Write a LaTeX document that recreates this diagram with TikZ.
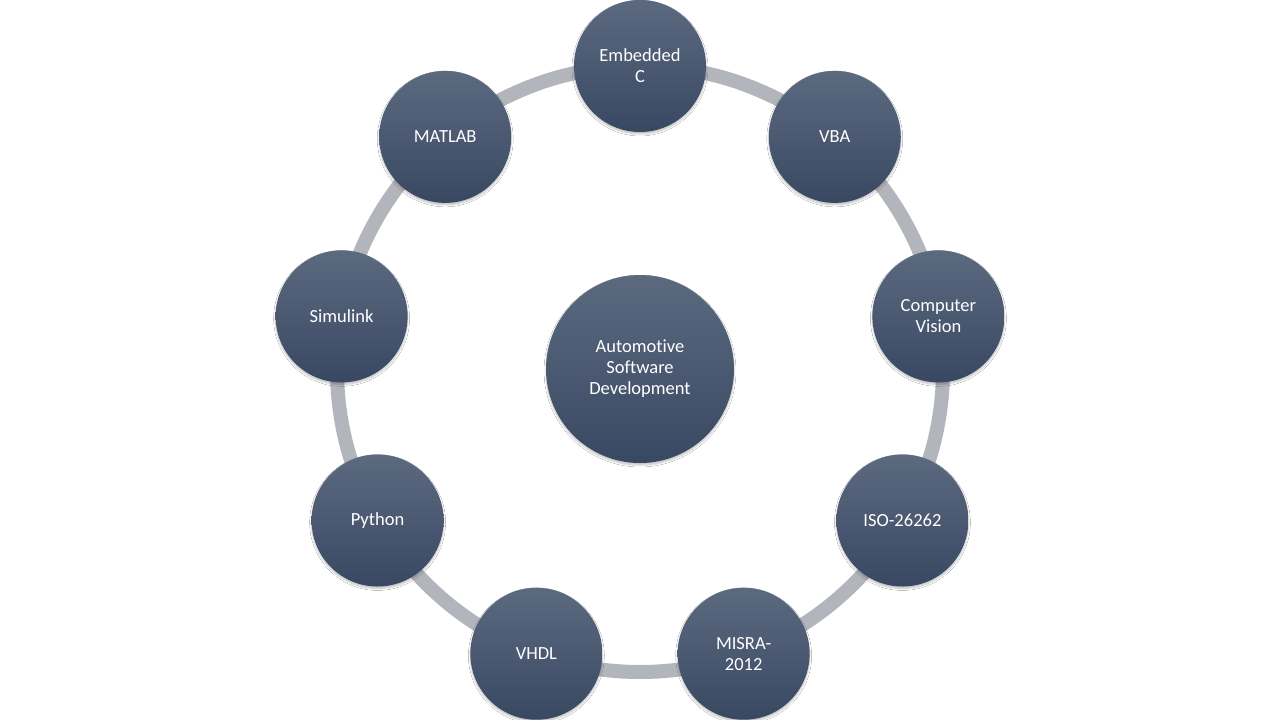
\documentclass[tikz,border=0pt]{standalone}
\usepackage{fontspec}
\setmainfont{Carlito}[Ligatures={NoCommon}]
\usetikzlibrary{calc,shadows.blur}
\definecolor{ringgray}{HTML}{B3B5BC}
\definecolor{nodetop}{HTML}{5C6A80}
\definecolor{nodebot}{HTML}{394862}
\tikzset{
  bubble/.style={circle, minimum size=#1, inner sep=0pt, align=center,
    top color=nodetop, bottom color=nodebot, text=white,
    font=\fontsize{18.5}{21}\selectfont,
    blur shadow={shadow xshift=0pt, shadow yshift=-2pt, shadow blur steps=6, shadow opacity=25}},
  ring/.style={draw=ringgray, line width=14pt}
}
\begin{document}
\begin{tikzpicture}[x=1pt,y=-1pt]
\useasboundingbox[fill=white] (0,0) rectangle (1280,720);
\coordinate (ctr) at (640,369);
\draw[ring] (ctr) circle[radius=303pt];
\node[bubble=188pt] (main) at (ctr) {Automotive\\Software\\Development};
\node[bubble=132pt] (embc) at ($(ctr)+(90:303pt)$) {Embedded\\C};
\node[bubble=132pt] (vba) at ($(ctr)+(50:303pt)$) {VBA};
\node[bubble=132pt] (cv) at ($(ctr)+(10:303pt)$) {Computer\\Vision};
\node[bubble=132pt] (iso) at ($(ctr)+(-30:303pt)$) {ISO-26262};
\node[bubble=132pt] (misra) at ($(ctr)+(-70:303pt)$) {MISRA-\\2012};
\node[bubble=132pt] (vhdl) at ($(ctr)+(-110:303pt)$) {VHDL};
\node[bubble=132pt] (py) at ($(ctr)+(-150:303pt)$) {Python};
\node[bubble=132pt] (sim) at ($(ctr)+(170:303pt)$) {Simulink};
\node[bubble=132pt] (mat) at ($(ctr)+(130:303pt)$) {MATLAB};
\end{tikzpicture}
\end{document}
